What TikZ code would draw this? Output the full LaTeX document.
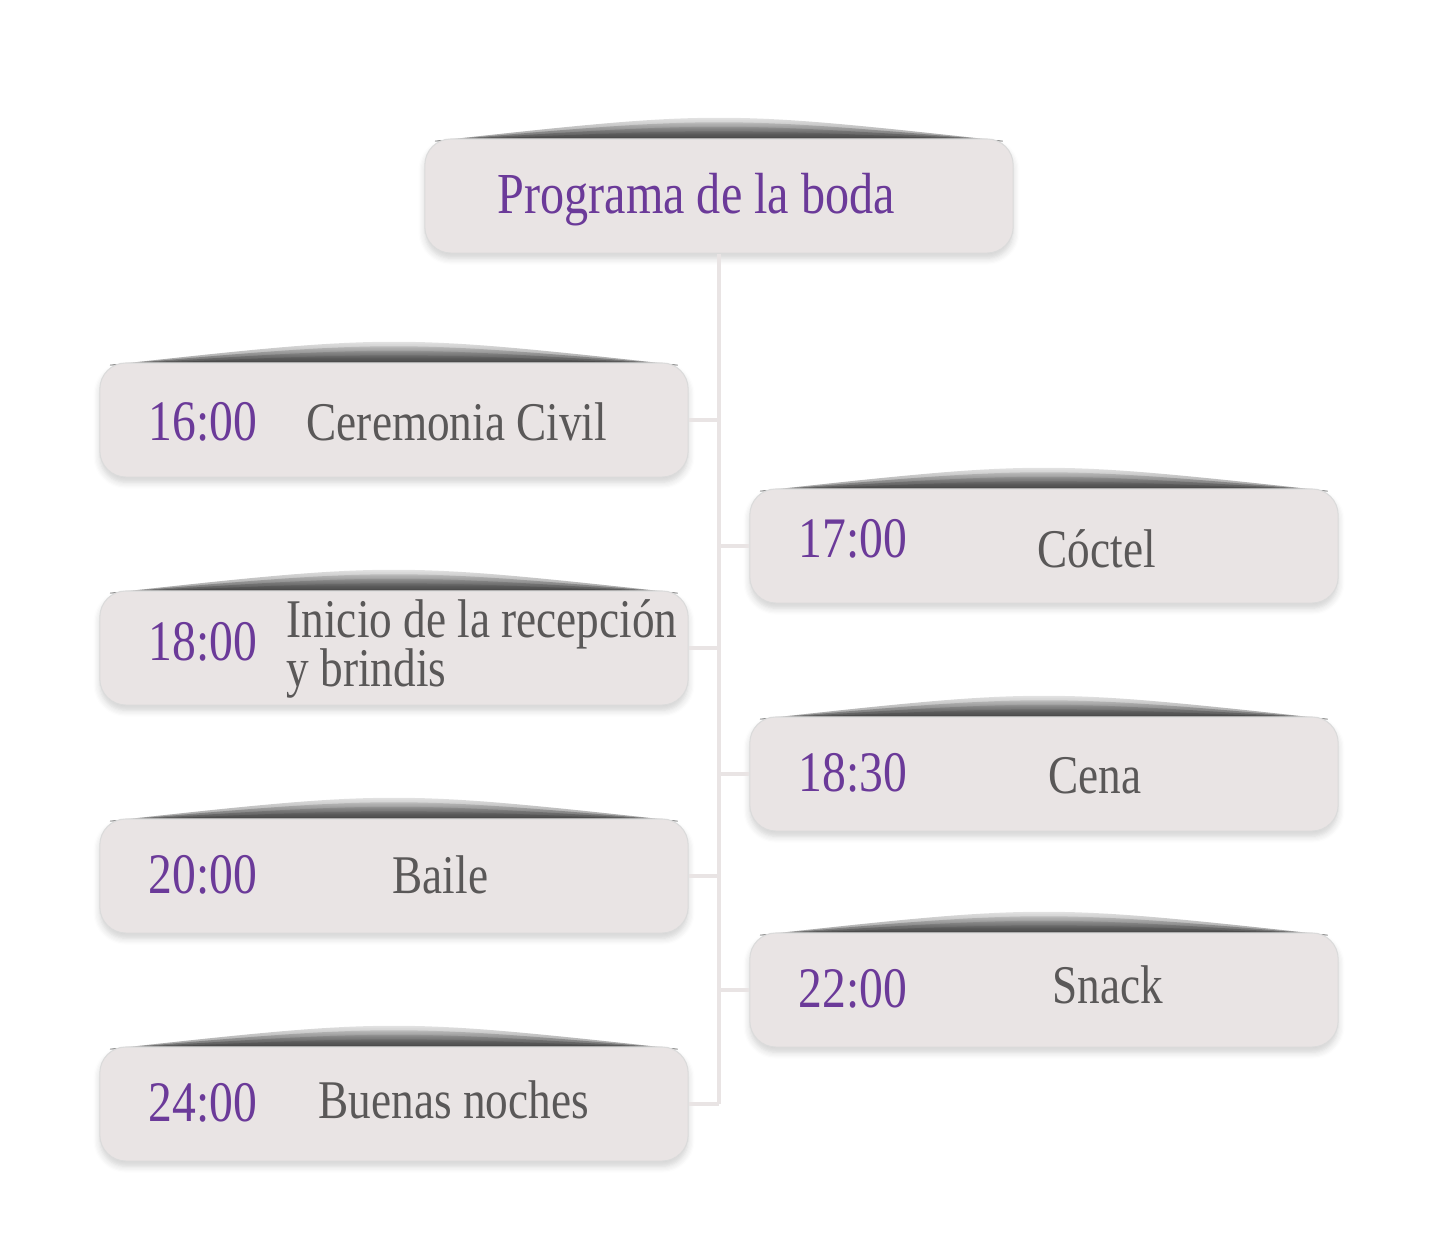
\documentclass[tikz,border=0pt]{standalone}
\usepackage{fontspec}
\setmainfont{Liberation Serif}[FakeStretch=0.83]
\usetikzlibrary{fadings,shadows.blur}
\definecolor{boxFill}{HTML}{E9E4E4}
\definecolor{timeColor}{HTML}{6B3A99}
\definecolor{textColor}{HTML}{5A5858}

\begin{document}
\begin{tikzpicture}
[x=0.01cm,y=-0.01cm,
  boxDecorate/.style={rounded corners=0.26cm,fill=boxFill,draw=black!14,line width=0.3pt,
    minimum width=5.88cm,minimum height=1.14cm,inner sep=0pt,
    blur shadow={shadow xshift=0pt,shadow yshift=-1.5pt,shadow blur steps=6,shadow opacity=18}},
  lineDecorate/.style={-,draw=boxFill,line width=0.9pt},
  shadeDecorate/.style={left color=black!60,middle color=black!30,right color=black!60,path fading=north,opacity=0.3},
  timeDecorate/.style={anchor=base west,inner sep=0pt,text=timeColor,font=\fontsize{16.3}{12}\selectfont},
  textDecorate/.style={anchor=base west,inner sep=0pt,text=textColor,font=\fontsize{15.5}{12}\selectfont,align=left}]
\useasboundingbox (0,0) rectangle (1448,1250);
%% boxes
\foreach \nodename/\x/\y in {
  root/719/196,
  1600/394/420,
  1700/1044/546,
  1800/394/648,
  1830/1044/774,
  2000/394/876,
  2200/1044/990,
  2400/394/1104}
{
  \foreach \h in {68,74,80,86}
    \fill[shadeDecorate] (\x-284,\y-55) .. controls (\x,\y-\h) .. (\x+284,\y-55) -- cycle;
  \node (\nodename) at (\x,\y) [boxDecorate] {};
  \coordinate (j\nodename) at (719,\y);
}
%% texts
\node (rootText) at (497,213) [timeDecorate,font=\fontsize{16.5}{12}\selectfont] {Programa de la boda};
\foreach \nodename/\tx/\ty/\lx/\ly/\hour/\what in {
  1600/148/440/306/440/16:00/{Ceremonia Civil},
  1700/798/557/1037/567/17:00/{Cóctel},
  1800/148/660/286/686/18:00/{Inicio de la recepción\\[-1.2pt]y brindis},
  1830/798/791/1048/793/18:30/{Cena},
  2000/148/893/392/893/20:00/{Baile},
  2200/798/1007/1052/1003/22:00/{Snack},
  2400/148/1121/318/1118/24:00/{Buenas noches}}
{
  \node (time\nodename) at (\tx,\ty) [timeDecorate] {\hour};
  \node (text\nodename) at (\lx,\ly) [textDecorate] {\what};
}
%% connectors
\path
\foreach \startnode/\endnode in {
  root/j2400, 1600/j1600, 1800/j1800, 2000/j2000, 2400/j2400,
  1700/j1700, 1830/j1830, 2200/j2200}
{
  (\startnode) edge[lineDecorate] (\endnode)
};
\end{tikzpicture}
\end{document}
